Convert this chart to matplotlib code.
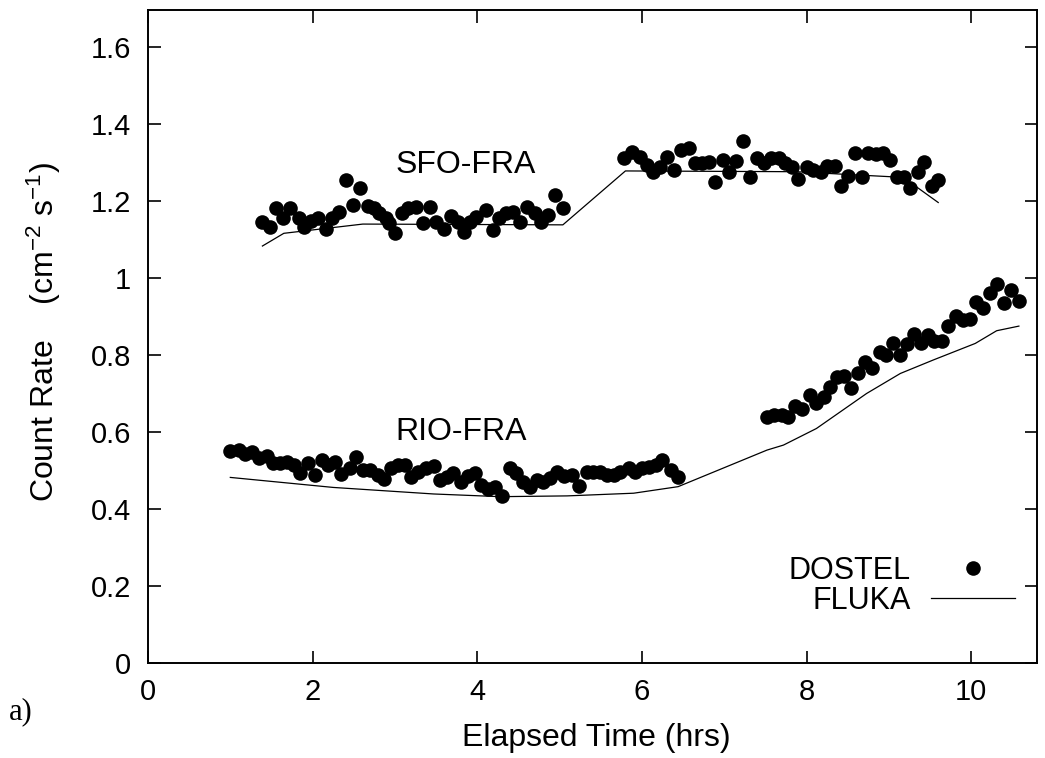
import matplotlib
matplotlib.use("Agg")
import matplotlib.pyplot as plt
from matplotlib.lines import Line2D

plt.rcParams['font.family'] = ['Liberation Sans', 'DejaVu Sans']
plt.rcParams['mathtext.fontset'] = 'custom'
plt.rcParams['mathtext.rm'] = 'Liberation Sans'
plt.rcParams['mathtext.it'] = 'Liberation Sans'
plt.rcParams['mathtext.default'] = 'regular'

# ---- data ----
sfo_x = [1.39, 1.48, 1.56, 1.64, 1.73, 1.83, 1.90, 1.98, 2.07, 2.16, 2.23, 2.32, 2.41, 2.49,
         2.58, 2.67, 2.74, 2.81, 2.89, 2.93, 3.00, 3.08, 3.16, 3.26, 3.34, 3.42, 3.50, 3.60,
         3.68, 3.76, 3.84, 3.91, 3.99, 4.11, 4.19, 4.26, 4.35, 4.44, 4.52, 4.61, 4.70, 4.78,
         4.86, 4.95, 5.04,
         5.78, 5.88, 5.98, 6.06, 6.13, 6.22, 6.30, 6.39, 6.47, 6.57, 6.65, 6.73, 6.81, 6.89,
         6.98, 7.06, 7.14, 7.23, 7.31, 7.40, 7.48, 7.57, 7.66, 7.74, 7.82, 7.90, 8.00, 8.08,
         8.17, 8.25, 8.34, 8.42, 8.50, 8.59, 8.67, 8.75, 8.85, 8.93, 9.02, 9.10, 9.18, 9.26,
         9.35, 9.43, 9.52, 9.60]
sfo_y = [1.146, 1.133, 1.181, 1.155, 1.181, 1.155, 1.133, 1.149, 1.155, 1.128, 1.155, 1.172,
         1.255, 1.190, 1.233, 1.187, 1.181, 1.168, 1.155, 1.142, 1.116, 1.168, 1.183, 1.185,
         1.144, 1.185, 1.146, 1.128, 1.161, 1.146, 1.120, 1.146, 1.159, 1.177, 1.125, 1.155,
         1.168, 1.172, 1.146, 1.185, 1.168, 1.146, 1.164, 1.216, 1.181,
         1.311, 1.328, 1.315, 1.294, 1.274, 1.289, 1.313, 1.281, 1.332, 1.338, 1.298, 1.298,
         1.302, 1.250, 1.306, 1.276, 1.304, 1.356, 1.263, 1.311, 1.298, 1.311, 1.311, 1.298,
         1.289, 1.256, 1.289, 1.281, 1.274, 1.291, 1.291, 1.239, 1.265, 1.324, 1.263, 1.325,
         1.321, 1.325, 1.306, 1.261, 1.261, 1.233, 1.274, 1.302, 1.239, 1.255]

rio_x = [1.00, 1.10, 1.18, 1.26, 1.35, 1.44, 1.52, 1.60, 1.69, 1.77, 1.85, 1.94, 2.03, 2.11,
         2.19, 2.27, 2.35, 2.45, 2.53, 2.61, 2.70, 2.79, 2.87, 2.95, 3.04, 3.12, 3.20, 3.28,
         3.38, 3.47, 3.55, 3.63, 3.71, 3.80, 3.89, 3.97, 4.05, 4.13, 4.22, 4.30, 4.40, 4.47,
         4.55, 4.64, 4.72, 4.80, 4.88, 4.97, 5.05, 5.15, 5.24, 5.33, 5.41, 5.49, 5.58, 5.66,
         5.74, 5.84, 5.92, 6.00, 6.09, 6.17, 6.25, 6.35, 6.44,
         7.52, 7.61, 7.70, 7.78, 7.86, 7.95, 8.04, 8.12, 8.21, 8.29, 8.37, 8.46, 8.54, 8.63,
         8.71, 8.79, 8.89, 8.97, 9.05, 9.13, 9.22, 9.30, 9.39, 9.47, 9.55, 9.64, 9.72, 9.81,
         9.90, 9.99, 10.06, 10.14, 10.23, 10.32, 10.40, 10.49, 10.58]
rio_y = [0.551, 0.553, 0.542, 0.549, 0.532, 0.538, 0.519, 0.519, 0.523, 0.514, 0.494, 0.519,
         0.488, 0.527, 0.514, 0.523, 0.491, 0.506, 0.534, 0.501, 0.501, 0.488, 0.478, 0.506,
         0.514, 0.514, 0.484, 0.497, 0.506, 0.512, 0.475, 0.484, 0.493, 0.471, 0.486, 0.493,
         0.462, 0.453, 0.458, 0.434, 0.506, 0.493, 0.471, 0.456, 0.475, 0.471, 0.480, 0.497,
         0.486, 0.488, 0.460, 0.497, 0.497, 0.497, 0.488, 0.488, 0.497, 0.506, 0.497, 0.506,
         0.510, 0.514, 0.527, 0.501, 0.484,
         0.638, 0.644, 0.644, 0.638, 0.668, 0.659, 0.696, 0.674, 0.692, 0.716, 0.744, 0.745,
         0.713, 0.752, 0.783, 0.765, 0.809, 0.800, 0.832, 0.800, 0.829, 0.855, 0.832, 0.852,
         0.837, 0.837, 0.874, 0.901, 0.891, 0.893, 0.938, 0.921, 0.962, 0.984, 0.936, 0.969,
         0.939]

fluka_sfo_x = [1.39, 1.65, 2.61, 5.04, 5.80, 7.88, 8.57, 9.02, 9.34, 9.60]
fluka_sfo_y = [1.083, 1.116, 1.140, 1.138, 1.278, 1.276, 1.268, 1.263, 1.236, 1.196]

fluka_rio_x = [1.00, 2.25, 3.47, 4.28, 5.09, 5.90, 6.44, 7.52, 7.72, 8.12, 8.73, 9.14, 9.54,
               10.05, 10.31, 10.58]
fluka_rio_y = [0.482, 0.456, 0.439, 0.432, 0.434, 0.441, 0.458, 0.553, 0.566, 0.609, 0.700,
               0.752, 0.787, 0.830, 0.863, 0.875]

xticks = [0, 2, 4, 6, 8, 10]
yticks = [0, 0.2, 0.4, 0.6, 0.8, 1.0, 1.2, 1.4, 1.6]
ytick_labels = ['0', '0.2', '0.4', '0.6', '0.8', '1', '1.2', '1.4', '1.6']

BIG = 23

# ---- figure ----
fig = plt.figure(figsize=(10.45, 7.58), dpi=100)
ax = fig.add_axes([148/1045, 1 - 663/758, (1037-148)/1045, (663-10)/758])

ax.plot(fluka_sfo_x, fluka_sfo_y, color='black', lw=0.9)
ax.plot(fluka_rio_x, fluka_rio_y, color='black', lw=0.9)
ax.plot(sfo_x, sfo_y, 'o', color='black', ms=10.5, mew=0)
ax.plot(rio_x, rio_y, 'o', color='black', ms=10.5, mew=0)

ax.set_xlim(0, 10.8)
ax.set_ylim(0, 1.696)
ax.set_xticks(xticks)
ax.set_xticklabels([str(t) for t in xticks])
ax.set_yticks(yticks)
ax.set_yticklabels(ytick_labels)
ax.tick_params(direction='in', length=9, width=1.2, top=True, right=True,
               labelsize=21)
ax.tick_params(axis='x', pad=11)
ax.tick_params(axis='y', pad=12)
for s in ax.spines.values():
    s.set_linewidth(1.4)

ax.text(3.86, 1.293, 'SFO-FRA', fontsize=BIG, ha='center', va='center')
ax.text(3.81, 0.601, 'RIO-FRA', fontsize=BIG, ha='center', va='center')

fig.text(44/1045, 1 - 332/758, r'Count Rate    (cm$^{-2}$ s$^{-1}$)', rotation=90,
         fontsize=BIG, ha='center', va='center')
fig.text(596/1045, 1 - 738/758, 'Elapsed Time (hrs)', fontsize=BIG,
         ha='center', va='center')
fig.text(9/1045, 1 - 712/758, 'a)', fontsize=22, ha='left', va='center',
         family=['Liberation Serif', 'DejaVu Serif'])

handles = [Line2D([], [], ls='none', marker='o', color='black', ms=10.5, mew=0),
           Line2D([], [], color='black', lw=0.9)]
leg = ax.legend(handles, ['DOSTEL', 'FLUKA'], loc='lower right', markerfirst=False,
                frameon=False, fontsize=22, handlelength=2.75, handletextpad=0.65,
                labelspacing=0.0, borderpad=0, borderaxespad=0,
                bbox_to_anchor=((1015-148)/889, (663-616)/653))

fig.savefig('out.png', dpi=100)
